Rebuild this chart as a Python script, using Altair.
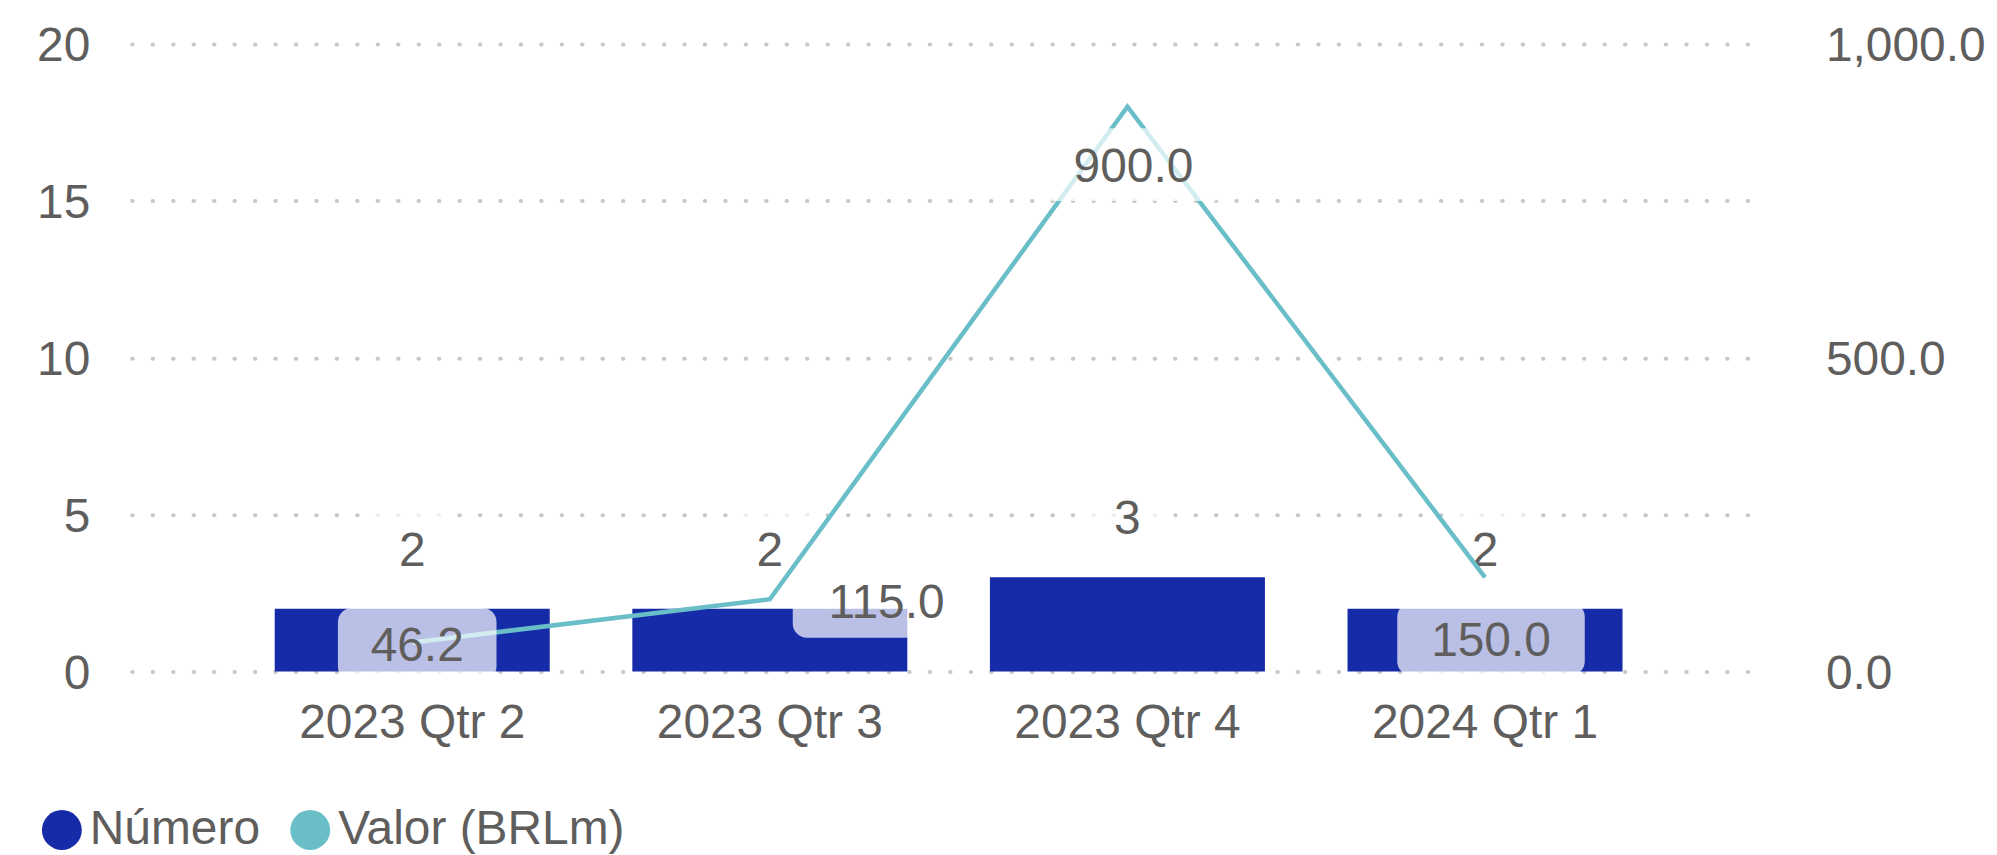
import altair as alt
import pandas as pd

# ---- data ----
quarters = ["2023 Qtr 2", "2023 Qtr 3", "2023 Qtr 4", "2024 Qtr 1"]
numero = [2, 2, 3, 2]
valor = [46.2, 115.0, 900.0, 150.0]
left_ticks = [0, 5, 10, 15, 20]
right_ticks = [0, 500, 1000]
series_names = ["Número", "Valor (BRLm)"]

# ---- style ----
BAR = "#152BA8"
LINE = "#6ABEC8"
TXT = "#605E5C"
GRID = "#C8C8C8"
FONT = "Liberation Sans"
FS = 48
W, H = 1638, 629

df = pd.DataFrame({"quarter": quarters, "numero": numero, "valor": valor})
df["series"] = series_names[0]
df["numero_lbl"] = [str(v) for v in numero]
df["valor_lbl"] = [f"{v:,.1f}" for v in valor]


def rrect(cx, cy, w, h, r):
    """Rounded rectangle path in pixel units (used with symbol size 4 -> scale 1)."""
    x0, x1 = cx - w / 2, cx + w / 2
    y0, y1 = cy - h / 2, cy + h / 2
    return (f"M{x0 + r},{y0} H{x1 - r} A{r},{r} 0 0 1 {x1},{y0 + r} V{y1 - r} "
            f"A{r},{r} 0 0 1 {x1 - r},{y1} H{x0 + r} A{r},{r} 0 0 1 {x0},{y1 - r} "
            f"V{y0 + r} A{r},{r} 0 0 1 {x0 + r},{y0} Z")


base = alt.Chart(df)

x_enc = alt.X(
    "quarter:N", sort=quarters,
    scale=alt.Scale(paddingInner=0.231, paddingOuter=0.4),
    axis=alt.Axis(title=None, labelAngle=0, labelPadding=28, labelFontSize=FS,
                  labelFont=FONT, labelColor=TXT, labelLimit=0, domain=False,
                  ticks=False, grid=False),
)

yl_scale = alt.Scale(domain=[0, 20], nice=False, zero=True)
yl_axis = alt.Axis(title=None, orient="left", values=left_ticks, grid=True,
                   gridDash=[0.5, 20], gridCap="round", gridWidth=4, gridColor=GRID,
                   labelPadding=42, labelOffset=3, labelFontSize=FS, labelFont=FONT,
                   labelColor=TXT, domain=False, ticks=False)
yl = alt.Y("numero:Q", scale=yl_scale, axis=yl_axis)

yr_scale = alt.Scale(domain=[0, 1000], nice=False, zero=True)
yr_axis = alt.Axis(title=None, orient="right", values=right_ticks, format=",.1f",
                   grid=False, labelPadding=60, labelOffset=3, labelFontSize=FS,
                   labelFont=FONT, labelColor=TXT, labelLimit=0, domain=False,
                   ticks=False)
yr = alt.Y("valor:Q", scale=yr_scale, axis=yr_axis)

legend = alt.Legend(title=None, orient="none", legendX=-94, legendY=764,
                    direction="horizontal", symbolType="circle", symbolSize=1600,
                    symbolStrokeWidth=0, labelFontSize=FS, labelFont=FONT,
                    labelColor=TXT, labelOffset=4, columnPadding=26, padding=0,
                    labelLimit=0)

bars = base.mark_bar().encode(
    x=x_enc, y=yl,
    color=alt.Color("series:N", scale=alt.Scale(domain=series_names, range=[BAR, LINE]),
                    legend=legend),
)

bar_box = base.mark_point(shape=rrect(0, -60, 93, 73, 14), size=4, filled=True,
                          color="white", opacity=0.7, strokeWidth=0).encode(x=x_enc, y=yl)
bar_txt = base.mark_text(dy=-57, baseline="middle", fontSize=FS, font=FONT,
                         color=TXT).encode(x=x_enc, y=yl, text="numero_lbl:N")

left = alt.layer(bars, bar_box, bar_txt)

line = base.mark_line(color=LINE, strokeWidth=4.5).encode(x=x_enc, y=yr)


def label_pair(qs, box_path, dx, dy):
    sub = base.transform_filter(alt.FieldOneOfPredicate(field="quarter", oneOf=qs))
    box = sub.mark_point(shape=box_path, size=4, filled=True, color="white",
                         opacity=0.7, strokeWidth=0).encode(x=x_enc, y=yr)
    txt = sub.mark_text(dx=dx, dy=dy, baseline="middle", fontSize=FS, font=FONT,
                        color=TXT).encode(x=x_enc, y=yr, text="valor_lbl:N")
    return box, txt


b1, t1 = label_pair([quarters[0]], rrect(5, 2, 159, 73, 14), 5, 5)
b2, t2 = label_pair([quarters[1]], rrect(117, 2, 188, 73, 14), 117, 5)
b3, t3 = label_pair([quarters[2]], rrect(6, 58, 188, 73, 14), 6, 61)
b4, t4 = label_pair([quarters[3]], rrect(6, 62, 188, 73, 14), 6, 65)

right = alt.layer(line, b1, b2, b3, b4, t1, t2, t3, t4)

chart = (
    alt.layer(left, right)
    .resolve_scale(y="independent")
    .properties(width=W, height=H,
                autosize=alt.AutoSizeParams(type="none"),
                padding={"left": 124, "top": 35, "right": 224, "bottom": 200})
    .configure_view(stroke=None)
)

chart.save("out.html", embed_options={"renderer": "svg", "actions": False})
